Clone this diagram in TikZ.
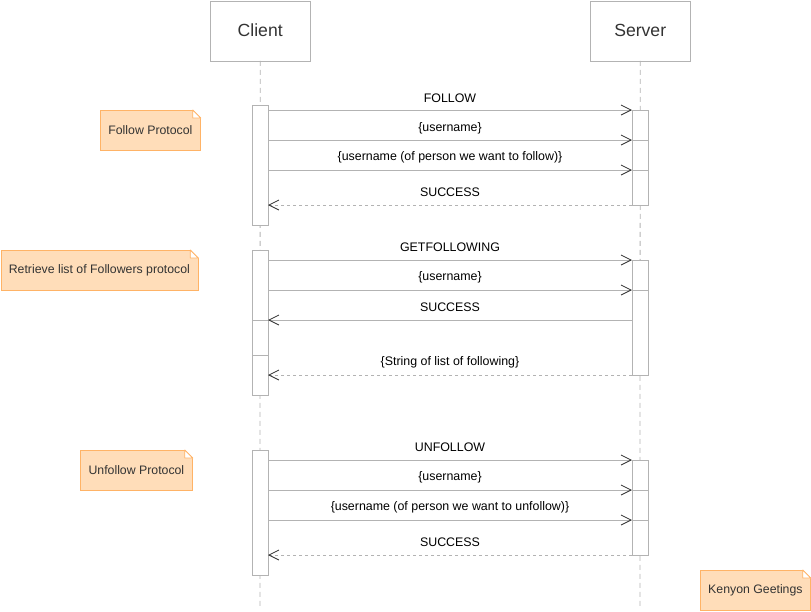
\documentclass[tikz,border=0pt]{standalone}
\usepackage{fontspec}
\setmainfont{Liberation Sans}
\usetikzlibrary{arrows.meta,calc}
\definecolor{lg}{HTML}{B3B3B3}
\definecolor{nfill}{HTML}{FFDDB9}
\definecolor{nline}{HTML}{FFB366}
\definecolor{tx}{HTML}{333333}
\tikzset{
  x=1pt,y=-1pt,
  head/.style={draw=lg,fill=white,minimum width=100pt,minimum height=60pt,inner sep=0pt,anchor=north west,font=\fontsize{17.6}{20}\selectfont,text=tx},
  life/.style={draw=lg,dash pattern=on 5pt off 4pt,line width=0.8pt},
  actbox/.style={draw=lg,fill=white,line width=0.8pt},
  msg/.style={draw=lg,line width=0.8pt,-{Straight Barb[length=10pt,width=10pt,color=tx,line width=0.8pt]}},
  ret/.style={msg,dash pattern=on 3pt off 3pt},
  seg/.style={draw=lg,line width=0.8pt},
  lbl/.style={font=\fontsize{12.4}{14}\selectfont,text=black,inner sep=0pt},
  notebox/.style={draw=nline,fill=nfill,line width=0.8pt,anchor=north west,inner sep=0pt,font=\fontsize{12.3}{14}\selectfont,text=tx},
}
\newcommand{\foldnote}[1]{%
  \fill[white] ($(#1.north east)+(-8,-0.6)$) -- ($(#1.north east)+(0.6,-0.6)$) -- ($(#1.north east)+(0.6,8)$) -- cycle;
  \draw[nline,line width=0.8pt,fill=white,line join=round] ($(#1.north east)+(-8,0)$) -- ($(#1.north east)+(0,8)$) -- ($(#1.north east)+(-8,8)$) -- cycle;
}
\begin{document}
\begin{tikzpicture}
\useasboundingbox (0,0) rectangle (811,611);
% heads
\node[head] (client) at (210,0.5) {Client};
\node[head] (server) at (590,0.5) {Server};
% lifelines
\coordinate (cend) at (260,607);
\coordinate (send) at (640,607);
\draw[life] (client.south) -- (cend);
\draw[life] (server.south) -- (send);
% activation boxes
\draw[actbox] (252,105) rectangle (268,225);
\draw[actbox] (632,110) rectangle (648,205);
\draw[actbox] (252,250) rectangle (268,395);
\draw[actbox] (632,260) rectangle (648,375);
\draw[actbox] (252,450) rectangle (268,575);
\draw[actbox] (632,460) rectangle (648,555);
% ---- block 1
\foreach \y/\n in {110/a,140/b,170/c,205/d}{
  \coordinate (c\n) at (268,\y); \coordinate (s\n) at (632,\y);}
\draw[msg] (ca) -- (sa); \draw[seg] (sa) -- ++(16,0);
\draw[msg] (cb) -- (sb); \draw[seg] (sb) -- ++(16,0);
\draw[msg] (cc) -- (sc); \draw[seg] (sc) -- ++(16,0);
\draw[ret] (sd) -- (cd);
\node[lbl] (la) at (450,98) {FOLLOW};
\node[lbl] (lb) at (450,128) {\{username\}};
\node[lbl] (lc) at (450,157.5) {\{username (of person we want to follow)\}};
\node[lbl] (ld) at (450,192) {SUCCESS};
% ---- block 2
\foreach \y/\n in {260/e,290/f,320/g,375/h}{
  \coordinate (c\n) at (268,\y); \coordinate (s\n) at (632,\y);}
\draw[msg] (ce) -- (se); \draw[seg] (se) -- ++(16,0);
\draw[msg] (cf) -- (sf); \draw[seg] (sf) -- ++(16,0);
\draw[msg] (sg) -- (cg); \draw[seg] (cg) -- ++(-16,0);
\draw[seg] (252,355) -- (268,355);
\draw[ret] (sh) -- (ch);
\node[lbl] (le) at (450,247.5) {GETFOLLOWING};
\node[lbl] (lf) at (450,277.5) {\{username\}};
\node[lbl] (lg2) at (450,307.5) {SUCCESS};
\node[lbl] (lh) at (450,362) {\{String of list of following\}};
% ---- block 3
\foreach \y/\n in {460/i,490/j,520/k,555/l}{
  \coordinate (c\n) at (268,\y); \coordinate (s\n) at (632,\y);}
\draw[msg] (ci) -- (si); \draw[seg] (si) -- ++(16,0);
\draw[msg] (cj) -- (sj); \draw[seg] (sj) -- ++(16,0);
\draw[msg] (ck) -- (sk); \draw[seg] (sk) -- ++(16,0);
\draw[ret] (sl) -- (cl);
\node[lbl] (li) at (450,447.5) {UNFOLLOW};
\node[lbl] (lj) at (450,477.5) {\{username\}};
\node[lbl] (lk) at (450,507.5) {\{username (of person we want to unfollow)\}};
\node[lbl] (ll) at (450,542) {SUCCESS};
% notes
\node[notebox,minimum width=100pt,minimum height=40pt] (n1) at (100,110) {Follow Protocol};
\foldnote{n1}
\node[notebox,minimum width=197pt,minimum height=40pt] (n2) at (0.5,250) {Retrieve list of Followers protocol};
\foldnote{n2}
\node[notebox,minimum width=112pt,minimum height=40pt] (n3) at (80,450) {Unfollow Protocol};
\foldnote{n3}
\node[notebox,minimum width=110pt,minimum height=40pt] (n4) at (700,570) {Kenyon Geetings};
\foldnote{n4}
\end{tikzpicture}
\end{document}
